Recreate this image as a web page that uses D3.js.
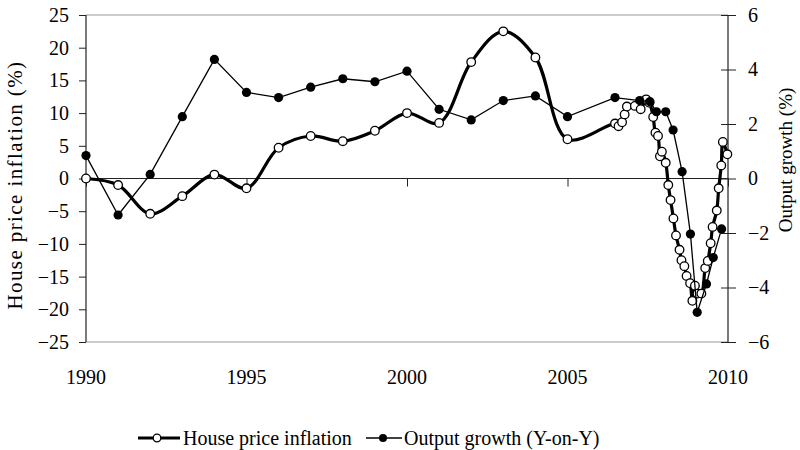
<!DOCTYPE html>
<html>
<head>
<meta charset="utf-8">
<script src="https://cdn.jsdelivr.net/npm/d3@7"></script>
<style>
  html, body { margin: 0; padding: 0; background: #fff; }
</style>
</head>
<body>
<div id="chart"></div>
<script>
// House price inflation (left axis, %) – annual then monthly from mid-2006
const houseDates = [
  1990, 1991, 1992, 1993, 1994, 1995, 1996, 1997, 1998, 1999, 2000, 2001, 2002, 2003, 2004, 2005,
  2006.48, 2006.59, 2006.70, 2006.78, 2006.85, 2007.10, 2007.28, 2007.45, 2007.55, 2007.67,
  2007.74, 2007.82, 2007.88, 2007.94, 2008.06, 2008.14, 2008.21, 2008.30, 2008.38, 2008.49,
  2008.55, 2008.64, 2008.71, 2008.82, 2008.89, 2008.97, 2009.05, 2009.17, 2009.29, 2009.37,
  2009.46, 2009.52, 2009.65, 2009.71, 2009.79, 2009.84, 2009.98
];
const houseValues = [
  0.0, -1.0, -5.4, -2.7, 0.6, -1.5, 4.7, 6.5, 5.7, 7.3, 10.0, 8.5, 17.8, 22.5, 18.5, 6.0,
  8.4, 8.0, 8.6, 9.8, 11.0, 11.1, 10.6, 12.1, 11.6, 9.4,
  7.0, 6.5, 3.4, 4.1, 2.4, -1.0, -3.3, -6.1, -8.7, -10.9,
  -12.5, -13.4, -14.9, -16.0, -18.7, -16.4, -17.6, -17.6, -13.7, -12.6,
  -9.9, -7.4, -4.9, -1.5, 2.0, 5.6, 3.7
];

// Output growth Y-on-Y (right axis, %) – annual then quarterly
const outputDates = [
  1990, 1991, 1992, 1993, 1994, 1995, 1996, 1997, 1998, 1999, 2000, 2001, 2002, 2003, 2004, 2005,
  2006.48, 2007.25, 2007.57, 2007.77, 2008.06, 2008.29, 2008.57, 2008.83, 2009.04, 2009.33, 2009.54, 2009.80
];
const outputValues = [
  0.84, -1.34, 0.15, 2.27, 4.37, 3.16, 2.97, 3.35, 3.66, 3.55, 3.94, 2.54, 2.15, 2.86, 3.03, 2.27,
  2.97, 2.86, 2.82, 2.45, 2.45, 1.78, 0.25, -2.04, -4.91, -3.87, -2.90, -1.85
];

const xTicks = [1990, 1995, 2000, 2005, 2010];
const leftTicks = [25, 20, 15, 10, 5, 0, -5, -10, -15, -20, -25];
const rightTicks = [6, 4, 2, 0, -2, -4, -6];

const leftTitle = "House price inflation (%)";
const rightTitle = "Output growth (%)";
const legendLabels = ["House price inflation", "Output growth (Y-on-Y)"];

(function () {
  const width = 800, height = 450;
  const plot = { left: 86, right: 728, top: 15, bottom: 342 };
  const serif = '"Liberation Serif", "Times New Roman", serif';

  const svg = d3.select("#chart").append("svg")
    .attr("width", width).attr("height", height)
    .attr("viewBox", `0 0 ${width} ${height}`);

  const x = d3.scaleLinear().domain([1990, 2010]).range([plot.left, plot.right]);
  const yL = d3.scaleLinear().domain([-25, 25]).range([plot.bottom, plot.top]);
  const yR = d3.scaleLinear().domain([-6, 6]).range([plot.bottom, plot.top]);

  // top and bottom frame lines (grey)
  svg.append("g").selectAll("line")
    .data([25, -25])
    .join("line")
    .attr("x1", plot.left).attr("x2", plot.right)
    .attr("y1", d => yL(d)).attr("y2", d => yL(d))
    .attr("stroke", "#9a9a9a").attr("stroke-width", 1.2);

  // left axis
  const leftAxis = svg.append("g")
    .attr("transform", `translate(${plot.left},0)`)
    .call(d3.axisLeft(yL).tickValues(leftTicks).tickSize(7).tickPadding(10).tickFormat(d3.format("d")));
  leftAxis.select(".domain").attr("stroke", "#222").attr("stroke-width", 1.2).attr("d", `M0,${plot.top}V${plot.bottom}`);
  leftAxis.selectAll(".tick line").attr("stroke", "#222");

  // right axis (ticks cross the axis)
  const rightAxis = svg.append("g")
    .attr("transform", `translate(${plot.right},0)`)
    .call(d3.axisRight(yR).tickValues(rightTicks).tickSize(8).tickPadding(12).tickFormat(d3.format("d")));
  rightAxis.select(".domain").attr("stroke", "#222").attr("stroke-width", 1.2).attr("d", `M0,${plot.top}V${plot.bottom}`);
  rightAxis.selectAll(".tick line").attr("stroke", "#222").attr("x1", -7);

  // x axis on the zero line
  const xAxis = svg.append("g")
    .attr("transform", `translate(0,${yL(0)})`)
    .call(d3.axisBottom(x).tickValues(xTicks).tickSize(8).tickFormat(d3.format("d")));
  xAxis.select(".domain").attr("stroke", "#222").attr("stroke-width", 1.2).attr("d", `M${plot.left},0H${plot.right}`);
  xAxis.selectAll(".tick line").attr("stroke", "#222");
  xAxis.selectAll(".tick text").remove();

  // x labels sit below the plot frame
  svg.append("g").selectAll("text")
    .data(xTicks)
    .join("text")
    .attr("x", d => x(d)).attr("y", 384)
    .attr("text-anchor", "middle")
    .text(d => d);

  // axis titles
  svg.append("text")
    .attr("class", "title")
    .attr("transform", `translate(22,185) rotate(-90)`)
    .attr("text-anchor", "middle")
    .attr("letter-spacing", 1.4)
    .style("font-size", "21px")
    .text(leftTitle);

  svg.append("text")
    .attr("class", "title")
    .attr("transform", `translate(792,160) rotate(-90)`)
    .attr("text-anchor", "middle")
    .style("font-size", "19px")
    .text(rightTitle);

  const house = houseDates.map((d, i) => ({ t: d, v: houseValues[i] }));
  const output = outputDates.map((d, i) => ({ t: d, v: outputValues[i] }));

  const houseLine = d3.line()
    .x(d => x(d.t)).y(d => yL(d.v))
    .curve(d3.curveCatmullRom.alpha(0.5));
  const outputLine = d3.line()
    .x(d => x(d.t)).y(d => yR(d.v));

  svg.append("path")
    .datum(house)
    .attr("d", houseLine)
    .attr("fill", "none").attr("stroke", "#000").attr("stroke-width", 3.2)
    .attr("stroke-linejoin", "round");
  svg.append("g").selectAll("circle")
    .data(house)
    .join("circle")
    .attr("cx", d => x(d.t)).attr("cy", d => yL(d.v)).attr("r", 4.3)
    .attr("fill", "#fff").attr("stroke", "#000").attr("stroke-width", 1.3);

  svg.append("path")
    .datum(output)
    .attr("d", outputLine)
    .attr("fill", "none").attr("stroke", "#000").attr("stroke-width", 1.3);
  svg.append("g").selectAll("circle")
    .data(output)
    .join("circle")
    .attr("cx", d => x(d.t)).attr("cy", d => yR(d.v)).attr("r", 4.6)
    .attr("fill", "#000");

  // legend
  const legend = svg.append("g").attr("transform", "translate(0,438)");
  legend.append("line").attr("x1", 138).attr("x2", 180).attr("y1", 0).attr("y2", 0)
    .attr("stroke", "#000").attr("stroke-width", 3);
  legend.append("circle").attr("cx", 157).attr("cy", 0).attr("r", 3.8)
    .attr("fill", "#fff").attr("stroke", "#000").attr("stroke-width", 1.3);
  legend.append("text").attr("x", 183).attr("y", 0).attr("dy", "0.35em")
    .text(legendLabels[0]);

  legend.append("line").attr("x1", 366).attr("x2", 402).attr("y1", 0).attr("y2", 0)
    .attr("stroke", "#000").attr("stroke-width", 1.3);
  legend.append("circle").attr("cx", 383).attr("cy", 0).attr("r", 4)
    .attr("fill", "#000");
  legend.append("text").attr("x", 404).attr("y", 0).attr("dy", "0.35em")
    .text(legendLabels[1]);

  // one serif face for every text, set inline so the axis defaults cannot win
  svg.selectAll("text")
    .style("font-family", serif)
    .attr("fill", "#000")
    .filter(function () { return !this.classList.contains("title"); })
    .style("font-size", "20px");
})();
</script>
</body>
</html>
